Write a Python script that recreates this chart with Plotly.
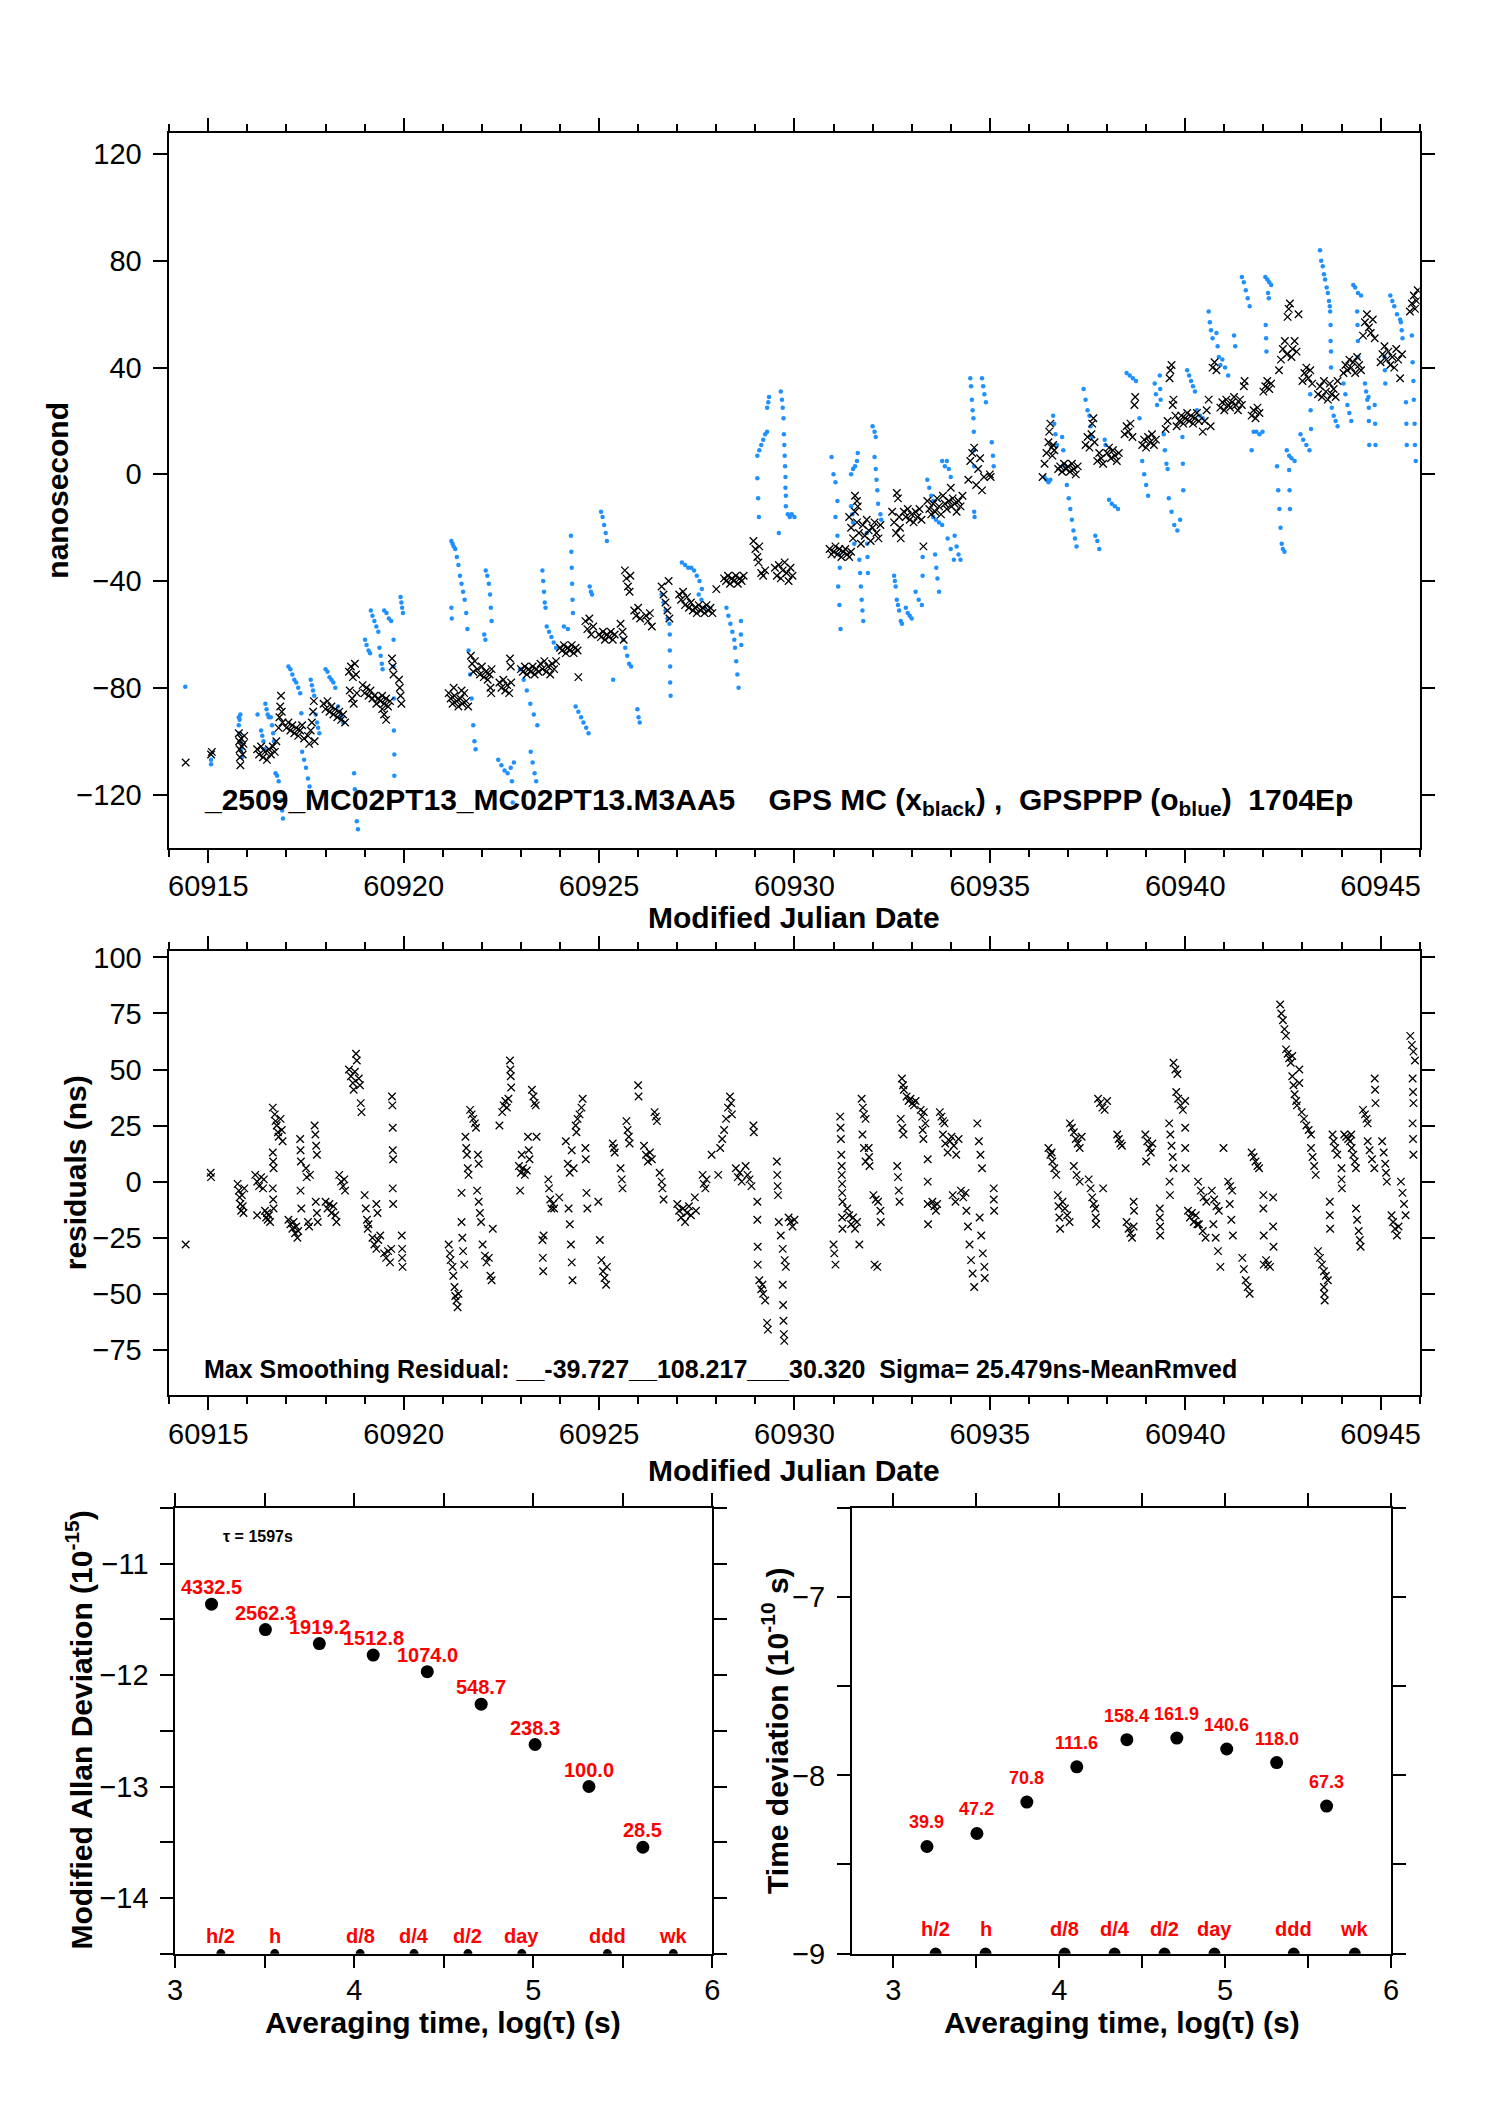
import plotly.graph_objects as go

W, H = 1488, 2105
FONT = "Liberation Sans, Arial, Helvetica, sans-serif"

# ---------------- DATA ----------------
# GPS MC (black x), top panel: (MJD, ns)
gps_mc_points = [
(60914.42,-108),
(60915.07,-105),(60915.09,-104),
(60915.78,-97),(60915.79,-100),(60915.80,-103),(60915.81,-106),(60915.82,-109),(60915.84,-99),(60915.86,-102),(60915.88,-105),(60915.90,-101),(60915.92,-98),
(60916.25,-103),(60916.30,-105),(60916.35,-102),(60916.40,-106),(60916.45,-104),(60916.50,-107),(60916.55,-103),(60916.60,-105),(60916.65,-102),(60916.70,-104),(60916.74,-100),
(60916.80,-95),(60916.82,-91),(60916.84,-87),(60916.86,-83),(60916.88,-89),(60916.90,-93),
(60917.00,-95),(60917.05,-93),(60917.10,-96),(60917.15,-94),(60917.20,-97),(60917.25,-95),(60917.30,-98),(60917.35,-96),(60917.40,-94),(60917.45,-99),
(60917.55,-98),(60917.58,-101),(60917.62,-96),(60917.65,-93),(60917.68,-89),(60917.70,-85),(60917.72,-100),
(60917.95,-86),(60918.00,-88),(60918.05,-85),(60918.10,-89),(60918.15,-87),(60918.20,-90),
(60918.25,-88),(60918.30,-91),(60918.35,-89),(60918.40,-92),(60918.45,-90),(60918.50,-93),
(60918.60,-74),(60918.65,-72),(60918.70,-76),(60918.75,-71),(60918.78,-75),(60918.62,-81),(60918.68,-84),(60918.72,-86),(60918.80,-82),
(60918.95,-79),(60919.00,-82),(60919.05,-80),(60919.10,-83),(60919.15,-81),
(60919.20,-84),(60919.25,-83),(60919.30,-86),(60919.35,-84),(60919.40,-85),(60919.45,-83),(60919.50,-86),(60919.55,-84),(60919.60,-87),(60919.65,-85),
(60919.45,-88),(60919.50,-90),(60919.55,-92),
(60919.70,-69),(60919.72,-72),(60919.74,-75),
(60919.88,-77),(60919.90,-80),(60919.92,-83),(60919.94,-86),
(60921.15,-82),(60921.20,-84),(60921.25,-86),(60921.30,-83),(60921.35,-85),(60921.40,-87),(60921.45,-84),(60921.50,-86),(60921.55,-82),(60921.60,-85),(60921.65,-87),(60921.28,-80),(60921.48,-81),
(60921.72,-68),(60921.75,-71),(60921.78,-74),(60921.82,-70),
(60921.88,-73),(60921.95,-75),(60922.00,-72),(60922.05,-76),(60922.10,-74),(60922.15,-77),(60922.20,-75),(60922.25,-73),
(60922.22,-80),(60922.24,-82),
(60922.45,-78),(60922.50,-80),(60922.55,-77),(60922.60,-81),(60922.65,-79),(60922.70,-82),(60922.75,-78),(60922.72,-69),(60922.74,-72),
(60923.00,-73),(60923.05,-74),(60923.10,-72),(60923.15,-75),(60923.20,-73),(60923.25,-74),(60923.30,-72),(60923.35,-75),(60923.40,-73),(60923.45,-74),
(60923.50,-71),(60923.55,-73),(60923.60,-70),(60923.65,-74),(60923.70,-72),(60923.75,-75),(60923.80,-71),(60923.85,-73),(60923.90,-70),
(60924.00,-65),(60924.05,-66),(60924.10,-64),(60924.15,-67),(60924.20,-65),(60924.25,-66),(60924.30,-64),(60924.35,-67),(60924.40,-65),(60924.45,-66),
(60924.47,-76),
(60924.65,-55),(60924.70,-58),(60924.75,-54),(60924.80,-60),(60924.85,-57),
(60925.00,-60),(60925.05,-61),(60925.10,-59),(60925.15,-62),(60925.20,-60),(60925.25,-61),(60925.30,-59),(60925.35,-62),(60925.40,-60),
(60925.55,-56),(60925.60,-59),(60925.63,-62),
(60925.66,-36),(60925.70,-39),(60925.74,-42),(60925.78,-44),(60925.80,-38),
(60925.90,-51),(60925.95,-53),(60926.00,-50),(60926.05,-54),
(60926.20,-53),(60926.25,-55),(60926.30,-52),(60926.35,-57),
(60926.60,-42),(60926.65,-45),(60926.70,-48),(60926.75,-51),(60926.78,-40),(60926.80,-54),
(60927.05,-45),(60927.10,-47),(60927.15,-44),(60927.20,-49),(60927.25,-46),(60927.30,-50),(60927.35,-48),(60927.40,-51),
(60927.45,-50),(60927.50,-52),(60927.55,-49),(60927.60,-51),(60927.65,-50),(60927.70,-52),(60927.75,-49),(60927.80,-51),(60927.85,-50),(60927.90,-52),
(60928.00,-43),
(60928.20,-39),(60928.25,-40),(60928.30,-38),(60928.35,-41),(60928.40,-39),(60928.45,-40),(60928.50,-38),(60928.55,-41),(60928.60,-39),(60928.65,-40),(60928.70,-38),
(60928.95,-25),(60929.00,-28),(60929.05,-31),(60929.08,-33),(60929.10,-27),
(60929.15,-37),(60929.20,-38),(60929.25,-36),
(60929.50,-35),(60929.55,-38),(60929.60,-34),(60929.65,-39),(60929.70,-36),(60929.75,-33),(60929.80,-37),(60929.85,-40),(60929.90,-35),(60929.95,-38),
(60930.90,-28),(60930.95,-30),(60931.00,-29),(60931.05,-27),(60931.10,-30),(60931.15,-28),(60931.20,-31),(60931.25,-29),(60931.30,-28),(60931.35,-30),(60931.40,-31),(60931.45,-29),
(60931.55,-8),(60931.60,-10),(60931.62,-12),
(60931.40,-16),(60931.45,-20),(60931.50,-24),(60931.55,-14),(60931.60,-18),(60931.65,-22),(60931.70,-26),(60931.75,-19),(60931.80,-23),(60931.85,-17),(60931.90,-21),(60931.95,-25),(60932.00,-20),(60932.05,-18),(60932.10,-22),(60932.15,-24),(60932.20,-19),
(60932.50,-14),(60932.55,-18),(60932.60,-22),(60932.62,-7),(60932.65,-9),(60932.68,-16),(60932.70,-20),(60932.72,-24),
(60932.80,-14),(60932.85,-16),(60932.90,-13),(60932.95,-17),(60933.00,-15),(60933.05,-18),(60933.10,-14),(60933.15,-16),(60933.20,-13),(60933.25,-17),(60933.30,-27),
(60933.40,-10),(60933.45,-13),(60933.50,-15),(60933.55,-11),(60933.60,-14),(60933.65,-9),(60933.70,-12),(60933.75,-15),
(60933.80,-8),(60933.85,-11),(60933.90,-13),(60933.95,-10),(60934.00,-5),(60934.02,-12),(60934.05,-9),(60934.10,-11),(60934.15,-14),(60934.20,-10),(60934.25,-12),(60934.30,-8),
(60934.45,-2),(60934.50,5),(60934.55,8),(60934.60,10),(60934.65,-4),(60934.70,2),(60934.75,6),(60934.80,-6),(60934.85,-1),
(60935.00,0),(60935.02,-1),
(60936.35,-1),(60936.40,4),(60936.45,8),(60936.50,12),(60936.52,16),(60936.55,19),(60936.58,10),(60936.60,7),(60936.62,11),(60936.65,9),
(60936.75,2),(60936.80,3),(60936.85,1),(60936.90,4),(60936.95,2),(60937.00,3),(60937.05,1),(60937.10,4),(60937.15,2),(60937.20,0),(60937.25,3),
(60937.45,11),(60937.50,14),(60937.55,10),(60937.60,15),(60937.62,19),(60937.65,21),(60937.68,12),
(60937.75,5),(60937.80,8),(60937.85,6),(60937.90,4),
(60938.00,8),(60938.05,10),(60938.10,6),(60938.15,9),(60938.20,7),(60938.25,5),(60938.30,8),
(60938.45,15),(60938.50,18),(60938.55,16),(60938.60,19),(60938.65,14),(60938.70,26),(60938.72,29),
(60938.90,11),(60938.95,13),(60939.00,10),(60939.05,14),(60939.10,12),(60939.15,15),(60939.20,11),(60939.25,13),
(60939.50,17),(60939.55,20),(60939.60,36),(60939.62,39),(60939.65,41),(60939.68,26),(60939.70,28),(60939.75,22),(60939.78,18),
(60939.85,20),(60939.90,22),(60939.95,19),(60940.00,21),(60940.05,23),(60940.10,20),(60940.15,22),(60940.20,19),(60940.25,21),(60940.30,23),(60940.35,20),
(60940.45,16),(60940.50,20),(60940.55,24),(60940.60,28),(60940.65,18),(60940.70,40),(60940.75,42),(60940.80,39),
(60940.90,25),(60940.95,27),(60941.00,24),(60941.05,28),(60941.10,26),(60941.15,25),(60941.20,27),(60941.25,29),(60941.30,26),(60941.35,24),(60941.40,28),(60941.45,26),(60941.50,33),(60941.52,35),
(60941.70,22),(60941.75,24),(60941.80,21),(60941.85,25),(60941.90,23),
(60942.00,31),(60942.05,33),(60942.10,35),(60942.15,32),(60942.20,34),
(60942.40,39),(60942.45,43),(60942.50,47),(60942.55,50),(60942.60,45),(60942.62,59),(60942.65,62),(60942.68,64),
(60942.72,44),(60942.75,47),(60942.80,50),(60942.85,46),(60942.90,60),
(60943.00,35),(60943.05,38),(60943.10,40),(60943.15,36),(60943.20,39),(60943.25,34),
(60943.40,30),(60943.45,33),(60943.50,29),(60943.55,35),(60943.60,31),(60943.65,28),(60943.70,34),(60943.75,30),(60943.80,32),(60943.85,29),(60943.90,35),
(60944.05,38),(60944.10,41),(60944.15,39),(60944.20,43),(60944.25,40),(60944.30,42),(60944.35,38),(60944.40,44),(60944.45,41),(60944.50,39),
(60944.55,52),(60944.60,57),(60944.65,60),(60944.70,55),(60944.75,53),(60944.80,58),(60944.85,51),
(60945.00,42),(60945.05,45),(60945.10,48),(60945.15,43),(60945.20,46),(60945.25,41),(60945.30,44),(60945.35,40),(60945.40,47),(60945.45,43),(60945.50,36),(60945.55,45),
(60945.75,61),(60945.80,64),(60945.85,67),(60945.88,62),(60945.92,65),(60945.95,69),
]

# GPSPPP (blue o), top panel: (MJD, ns)
gpsppp_points = [
(60914.41,-79.6),
(60915.07,-107),(60915.07,-108.6),
(60915.78,-91),(60915.80,-92),(60915.82,-90),(60915.78,-94),(60915.80,-97),(60915.82,-100),(60915.84,-103),(60915.86,-106),
(60916.26,-90),
(60916.35,-96),(60916.38,-98),(60916.41,-100),(60916.44,-103),
(60916.46,-86),(60916.49,-88),(60916.52,-90),(60916.55,-91),
(60916.60,-91),(60916.63,-94),(60916.66,-97),(60916.68,-100),
(60916.72,-112),(60916.76,-113),(60916.80,-115),
(60916.85,-119),(60916.87,-122),(60916.89,-126),(60916.91,-129),
(60917.05,-72),(60917.10,-73),(60917.15,-75),(60917.20,-77),(60917.25,-78),(60917.30,-80),(60917.35,-82),
(60917.38,-89.5),
(60917.40,-104),(60917.45,-107),(60917.50,-110),(60917.55,-114),(60917.59,-117),
(60917.62,-77),(60917.65,-79),(60917.68,-81),(60917.71,-83),
(60917.75,-90),(60917.78,-93),(60917.81,-95),(60917.84,-97),
(60918.00,-73),(60918.05,-74),(60918.10,-76),(60918.15,-77),(60918.20,-78),(60918.25,-80),
(60918.32,-87),(60918.36,-89),(60918.40,-91),(60918.45,-93),
(60918.73,-112),(60918.75,-118),(60918.78,-124),(60918.80,-130),(60918.83,-133),
(60919.01,-62),(60919.05,-64),(60919.10,-66),(60919.14,-67),
(60919.16,-51),(60919.20,-53),(60919.25,-55),(60919.30,-57),(60919.35,-59),
(60919.38,-65),(60919.41,-68),(60919.44,-71),(60919.46,-73),
(60919.50,-51),(60919.56,-52),(60919.62,-54),(60919.68,-55),
(60919.74,-62),(60919.74,-72),(60919.75,-84),(60919.75,-96),(60919.76,-105),(60919.76,-113),
(60919.92,-46),(60919.94,-48),(60919.96,-50),(60919.98,-52),
(60921.22,-25),(60921.25,-26),(60921.28,-27),(60921.32,-28),
(60921.36,-31),(60921.40,-34),(60921.44,-38),(60921.48,-41),(60921.52,-44),(60921.56,-47),
(60921.60,-52),(60921.63,-58),(60921.66,-66),(60921.70,-75),(60921.74,-84),(60921.78,-94),(60921.81,-100),(60921.84,-103),
(60921.22,-50),(60921.23,-54),
(60922.10,-36),(60922.14,-38),(60922.18,-41),(60922.21,-45),(60922.23,-50),(60922.25,-55),
(60922.06,-60),(60922.09,-62),
(60922.42,-107),(60922.50,-109),(60922.58,-111),(60922.66,-112),(60922.74,-110),(60922.82,-108),
(60922.77,-115),(60922.78,-119),(60922.79,-123),
(60922.98,-73),(60923.07,-77),(60923.15,-81),(60923.24,-86),(60923.33,-90),(60923.42,-94),
(60923.25,-104),(60923.30,-108),(60923.35,-112),(60923.39,-115),
(60923.55,-36),(60923.57,-40),(60923.59,-44),(60923.61,-48),(60923.63,-50),
(60923.66,-57),(60923.72,-59),(60923.78,-61),(60923.84,-63),(60923.90,-65),
(60924.10,-57),(60924.20,-58),
(60924.28,-23),(60924.29,-29),(60924.30,-35),(60924.31,-41),(60924.32,-47),(60924.33,-52),
(60924.40,-87),(60924.47,-89),(60924.54,-91),(60924.60,-93),(60924.67,-95),(60924.73,-97),
(60924.76,-42),(60924.79,-44),(60924.82,-45),
(60925.05,-14),(60925.09,-16),(60925.13,-19),(60925.17,-22),(60925.20,-25),
(60925.36,-77),
(60925.62,-62),(60925.67,-65),(60925.72,-68),(60925.77,-71),(60925.82,-72),
(60925.98,-88),(60926.01,-91),(60926.04,-93),
(60926.60,-45),(60926.65,-48),(60926.70,-51),(60926.75,-54),(60926.80,-56),
(60926.81,-60),(60926.81,-66),(60926.82,-72),(60926.82,-78),(60926.83,-83),
(60927.12,-33),(60927.20,-34),(60927.28,-35),(60927.36,-35),
(60927.43,-36),(60927.50,-38),(60927.57,-40),(60927.63,-43),
(60927.55,-45),(60927.62,-47),(60927.70,-50),
(60928.26,-50),(60928.31,-53),(60928.36,-56),(60928.41,-59),(60928.46,-62),
(60928.48,-65),(60928.51,-70),(60928.54,-75),(60928.57,-80),
(60928.63,-55),(60928.63,-60),(60928.64,-64),
(60929.05,-1.5),(60929.07,-9),(60929.09,-16),
(60929.05,7),(60929.10,9),(60929.15,11),(60929.20,13),(60929.25,15),(60929.30,16),
(60929.30,25),(60929.33,27),(60929.35,29),
(60929.60,-22),
(60929.65,31),(60929.68,28),(60929.70,25),(60929.72,21),
(60929.73,15),(60929.74,11),(60929.75,7),(60929.76,3),
(60929.77,-1),(60929.77,-5),(60929.78,-8),(60929.78,-12),
(60929.83,-15),(60929.88,-16),(60929.93,-15),(60930.00,-16),
(60930.95,6.5),(60931.00,0),(60931.05,-3),(60931.10,-10),
(60931.05,-16),(60931.10,-23),(60931.13,-30),(60931.16,-35),(60931.12,-42),(60931.15,-49),(60931.18,-58),
(60931.45,0),(60931.50,2),(60931.55,3),(60931.60,5),(60931.62,8),
(60931.45,-12),(60931.48,-15),(60931.50,-18),(60931.53,-26),
(60931.66,-32),(60931.68,-37),(60931.70,-42),(60931.72,-47),(60931.74,-51),(60931.76,-55),
(60931.85,-22),(60931.86,-26),(60931.87,-31),(60931.88,-37),
(60932.00,18),(60932.05,16),(60932.08,14),(60932.05,6.5),(60932.08,2),(60932.10,-2),(60932.12,-6),(60932.14,-11),(60932.20,-15),(60932.22,-17),
(60932.55,-38),(60932.57,-40),(60932.59,-42),
(60932.62,-47),(60932.65,-49),(60932.68,-51),(60932.72,-55),(60932.75,-56),
(60932.85,-50),(60932.90,-52),(60932.95,-53),(60933.00,-54),
(60933.10,-44),(60933.18,-47),(60933.26,-49),(60933.28,-31),(60933.28,-38),
(60933.40,-2),(60933.45,-5),(60933.50,-8),(60933.55,-10),
(60933.55,-16),(60933.62,-17),(60933.70,-18),(60933.78,-19),
(60933.60,-30),(60933.63,-35),(60933.66,-39),(60933.70,-44),
(60933.78,5),(60933.85,3),
(60933.90,5),(60933.95,2),(60934.00,-1),
(60933.92,-24),(60934.00,-28),(60934.08,-32),
(60934.10,-23),(60934.15,-27),(60934.20,-30),(60934.25,-32),
(60934.50,36),(60934.52,33),(60934.54,28),(60934.56,24),(60934.58,21),(60934.59,16),(60934.60,9),(60934.60,3),
(60934.60,-14),(60934.61,-16),
(60934.80,36),(60934.83,33),(60934.86,30),(60934.90,27),
(60935.05,12),(60935.08,7),(60935.10,3),
(60936.40,-1),(60936.45,-2),(60936.50,-3),(60936.55,-2),
(60936.62,22),(60936.65,19),(60936.68,15),(60936.72,11),
(60936.85,14),(60936.88,9),(60936.92,3),
(60936.97,-4),(60937.02,-9),(60937.06,-13),(60937.10,-17),(60937.14,-21),(60937.18,-24),(60937.22,-27),
(60937.40,32),(60937.45,28),(60937.50,24),(60937.55,22),(60937.58,18),(60937.62,14),
(60937.70,-23),(60937.75,-25),(60937.80,-28),
(60937.94,13),(60937.96,11),
(60938.05,-9.5),(60938.12,-11),(60938.20,-12),(60938.28,-13),
(60938.50,38),(60938.58,37),(60938.66,36),(60938.74,35),
(60938.83,21),
(60938.90,5),(60938.95,0),(60939.00,-4),(60939.05,-8),
(60939.22,34),(60939.25,30),(60939.28,26),
(60939.35,37),(60939.36,32),(60939.37,28),
(60939.45,15),(60939.48,9),(60939.52,4),(60939.55,2),
(60939.58,-9),(60939.65,-14),(60939.72,-19),(60939.80,-21),(60939.87,-17),
(60939.93,14),(60939.94,4),(60939.95,-6),
(60940.05,39),(60940.10,37),(60940.15,35),(60940.20,33),(60940.25,31),
(60940.30,24),(60940.38,22),(60940.45,21),
(60940.60,61),(60940.63,57),(60940.66,54),(60940.70,51),
(60940.80,53),(60940.83,48),(60940.86,44),(60940.90,41),
(60940.95,43),(60941.02,40),(60941.10,37),
(60941.25,52),(60941.28,48),
(60941.45,74),(60941.50,72),(60941.55,69),(60941.60,66),(60941.65,63),
(60941.70,9),(60941.75,16),(60941.82,16),(60941.90,15),(60941.98,16),
(60942.05,74),(60942.10,73),(60942.15,72),(60942.20,71),(60942.12,68),(60942.14,66),
(60942.06,56),(60942.07,51),(60942.08,46),
(60942.35,3),(60942.38,-6),(60942.41,-13),(60942.44,-20),(60942.47,-26),(60942.50,-28),(60942.54,-29),
(60942.60,9),(60942.66,7),(60942.72,6),(60942.80,5),
(60942.66,1.6),(60942.67,-6),(60942.68,-13),
(60942.95,15),(60943.02,13),(60943.10,11),(60943.18,9),
(60943.20,30),(60943.21,24),(60943.22,17),
(60943.45,84),(60943.48,80),(60943.52,78),(60943.55,75),(60943.58,73),(60943.62,70),(60943.65,68),(60943.68,65),(60943.70,63),
(60943.71,61),(60943.72,56),(60943.72,50),(60943.73,46),(60943.73,40),
(60943.75,25),(60943.80,22),(60943.85,20),(60943.90,18),
(60944.05,34),(60944.10,30),(60944.15,26),(60944.20,23),(60944.25,20),
(60944.30,71),(60944.35,70),(60944.42,68),(60944.50,67),
(60944.40,61),(60944.41,56),(60944.42,50),(60944.43,44),
(60944.60,34),(60944.63,31),(60944.66,28),(60944.70,25),
(60944.69,29),(60944.70,20),(60944.71,11),
(60944.85,26),(60944.86,19),(60944.87,11),
(60945.10,44),(60945.11,39),(60945.12,34),
(60945.25,67),(60945.30,65),(60945.35,63),(60945.42,60),(60945.50,58),
(60945.52,57),(60945.54,54),(60945.56,51),
(60945.65,27),(60945.66,19),(60945.67,11),
(60945.80,52),(60945.82,42),(60945.84,35),(60945.85,28),(60945.87,19),(60945.88,11),(60945.90,5),
]

# Smoothing residuals (black x), middle panel: (MJD, ns)
residual_points = [
(60914.42,-28),
(60915.06,4),(60915.07,2),
(60915.75,-1),(60915.78,-4),(60915.80,-7),(60915.82,-10),(60915.84,-13),(60915.86,-6),(60915.88,-11),(60915.90,-14),(60915.92,-3),
(60916.20,3),(60916.25,0),(60916.30,-2),(60916.35,2),(60916.40,-3),(60916.42,1),(60916.25,-15),
(60916.45,-13),(60916.48,-16),(60916.50,-14),(60916.52,-17),(60916.55,-15),(60916.58,-18),
(60916.65,33),(60916.70,30),(60916.72,27),(60916.75,25),(60916.78,22),(60916.80,20),(60916.85,28),(60916.88,23),(60916.90,18),
(60916.65,13),(60916.66,9),(60916.67,6),(60916.65,-3),(60916.66,-8),(60916.67,-12),
(60917.05,-17),(60917.10,-19),(60917.15,-21),(60917.18,-18),(60917.22,-23),(60917.25,-20),(60917.28,-25),(60917.30,-22),
(60917.35,19),(60917.36,14),(60917.37,9),(60917.36,-4),(60917.38,-12),
(60917.50,6),(60917.52,2),(60917.55,-18),(60917.58,-20),(60917.60,3),
(60917.72,25),(60917.74,21),(60917.76,16),(60917.78,12),(60917.75,-9),(60917.78,-14),(60917.80,-18),
(60918.00,-9),(60918.05,-12),(60918.10,-10),(60918.15,-14),(60918.20,-11),(60918.25,-15),(60918.28,-18),
(60918.35,3),(60918.40,0),(60918.45,-2),(60918.48,1),(60918.50,-4),
(60918.60,50),(60918.65,47),(60918.70,44),(60918.72,41),(60918.75,49),(60918.78,57),(60918.80,54),(60918.85,46),(60918.88,43),
(60918.90,35),(60918.92,31),
(60919.00,-6),(60919.03,-12),(60919.06,-17),(60919.08,-21),(60919.10,-19),
(60919.20,-25),(60919.25,-28),(60919.30,-30),(60919.35,-26),(60919.40,-24),(60919.30,-10),(60919.33,-14),
(60919.50,-32),(60919.55,-34),(60919.60,-31),(60919.65,-36),(60919.68,-30),
(60919.70,38),(60919.71,34),(60919.72,24),(60919.72,14),(60919.73,10),(60919.72,-3),(60919.73,-10),
(60919.95,-24),(60919.96,-30),(60919.96,-34),(60919.97,-38),
(60921.15,-28),(60921.18,-32),(60921.20,-35),(60921.25,-38),
(60921.27,-42),(60921.30,-47),(60921.32,-51),(60921.35,-53),(60921.38,-56),(60921.40,-50),
(60921.48,-18),(60921.50,-25),(60921.52,-31),(60921.55,-37),(60921.48,-5),
(60921.58,20),(60921.60,15),(60921.62,12),(60921.64,6),(60921.66,3),
(60921.70,32),(60921.74,30),(60921.78,28),(60921.82,26),(60921.85,24),
(60921.90,12),(60921.92,8),(60921.88,-4),(60921.92,-9),(60921.95,-14),(60921.98,-18),
(60922.02,-28),(60922.08,-33),(60922.12,-36),(60922.18,-34),(60922.22,-42),(60922.25,-44),(60922.28,-21),
(60922.45,25),
(60922.52,31),(60922.56,34),(60922.60,36),(60922.64,33),(60922.68,37),(60922.72,54),(60922.73,50),(60922.74,47),(60922.75,42),
(60922.95,7),(60923.00,4),(60923.05,6),(60923.10,3),(60923.15,5),(60923.02,12),(60922.98,-4),
(60923.18,20),(60923.20,14),(60923.22,10),
(60923.28,41),(60923.32,38),(60923.35,35),(60923.38,34),(60923.40,20),
(60923.55,-26),(60923.56,-34),(60923.57,-40),(60923.58,-24),
(60923.70,1),(60923.72,-3),(60923.75,-8),(60923.78,-12),(60923.82,-10),(60923.85,-12),
(60923.98,-7),
(60924.15,18),(60924.20,8),(60924.25,4),(60924.30,14),(60924.35,6),
(60924.22,-12),(60924.25,-19),(60924.28,-28),(60924.30,-36),(60924.32,-44),
(60924.40,25),(60924.45,28),(60924.50,30),(60924.55,33),(60924.58,37),(60924.42,22),
(60924.65,15),(60924.66,10),(60924.68,-5),(60924.70,-12),
(60924.98,-9),(60925.02,-26),(60925.06,-35),(60925.10,-40),(60925.14,-43),(60925.18,-46),(60925.20,-38),
(60925.35,17),(60925.38,15),(60925.40,13),
(60925.55,6),(60925.58,1),(60925.60,-3),
(60925.70,27),(60925.73,23),(60925.76,20),(60925.78,17),
(60926.00,43),(60926.01,38),
(60926.15,16),(60926.20,12),(60926.25,9),(60926.30,13),(60926.35,10),
(60926.42,31),(60926.45,29),(60926.48,27),
(60926.55,4),(60926.60,0),(60926.62,-3),(60926.65,-8),
(60927.00,-10),(60927.05,-13),(60927.10,-16),(60927.15,-12),(60927.20,-18),(60927.25,-14),(60927.30,-11),(60927.35,-15),
(60927.45,-7),(60927.48,-13),
(60927.65,3),(60927.68,-1),(60927.72,-3),(60927.75,1),
(60927.88,12),(60928.05,3),
(60928.10,15),(60928.15,19),(60928.20,23),(60928.25,28),(60928.30,33),(60928.35,38),(60928.38,35),(60928.40,30),
(60928.50,6),(60928.55,2),(60928.60,4),(60928.65,0),
(60928.75,7),(60928.80,3),(60928.85,1),(60928.90,-2),
(60928.95,25),(60928.96,22),
(60929.05,-9),(60929.05,-17),(60929.06,-29),(60929.06,-37),
(60929.10,-44),(60929.15,-48),(60929.20,-50),(60929.25,-53),(60929.18,-46),
(60929.30,-63),(60929.32,-66),
(60929.55,9),(60929.56,3),(60929.57,-2),(60929.58,-6),
(60929.60,-18),(60929.65,-24),(60929.70,-30),(60929.75,-35),(60929.78,-38),
(60929.70,-46),(60929.71,-55),(60929.72,-62),(60929.73,-68),(60929.74,-71),
(60929.85,-16),(60929.90,-18),(60929.95,-20),(60930.00,-17),
(60931.00,-28),(60931.02,-32),(60931.05,-37),
(60931.17,29),(60931.18,24),(60931.19,19),(60931.20,12),(60931.21,7),(60931.21,3),(60931.22,-1),(60931.22,-5),(60931.23,-9),(60931.22,-16),(60931.23,-21),
(60931.35,-12),(60931.40,-15),(60931.45,-19),(60931.50,-16),(60931.55,-21),(60931.60,-18),
(60931.66,-28),
(60931.72,37),(60931.75,33),(60931.78,30),(60931.82,28),(60931.74,21),(60931.78,15),(60931.82,9),
(60931.90,15),(60931.91,11),(60931.92,7),
(60932.02,-6),(60932.08,-8),(60932.14,-9),(60932.05,-37),(60932.12,-38),
(60932.20,-13),(60932.21,-18),
(60932.63,7),(60932.65,2),(60932.67,-4),(60932.69,-9),
(60932.75,46),(60932.78,43),(60932.80,41),
(60932.72,28),(60932.76,24),(60932.79,21),
(60932.87,38),(60932.92,36),(60932.97,37),(60933.02,35),(60933.06,34),(60933.10,36),
(60933.23,32),(60933.27,29),(60933.31,31),(60933.35,26),(60933.28,23),(60933.30,19),
(60933.41,10),(60933.41,0),(60933.41,-10),(60933.42,-19),
(60933.53,-9),(60933.58,-11),(60933.62,-13),(60933.65,-10),
(60933.72,31),(60933.76,29),(60933.80,27),(60933.84,26),
(60933.80,21),(60933.86,17),(60933.92,13),(60933.98,18),
(60934.02,20),(60934.08,16),(60934.14,12),(60934.20,19),(60934.05,-6),(60934.12,-9),
(60934.26,-4),(60934.32,-7),(60934.38,-5),
(60934.40,-13),(60934.44,-20),(60934.48,-28),(60934.52,-35),(60934.56,-41),(60934.60,-47),
(60934.68,26),(60934.72,18),(60934.76,12),(60934.80,6),
(60934.74,-16),(60934.78,-24),(60934.82,-32),(60934.86,-38),(60934.87,-43),
(60935.10,-3),(60935.10,-8),(60935.11,-13),
(60936.50,15),(60936.55,12),(60936.60,9),(60936.65,6),(60936.70,3),(60936.58,13),
(60936.74,-6),(60936.76,-11),(60936.78,-16),(60936.80,-21),
(60936.86,-9),(60936.92,-12),(60936.98,-15),(60937.04,-18),
(60937.05,26),(60937.10,24),(60937.15,22),(60937.20,19),(60937.25,17),(60937.30,15),(60937.35,20),
(60937.15,7),(60937.22,3),(60937.30,0),
(60937.53,1),(60937.58,-3),(60937.62,-7),(60937.66,-10),(60937.70,-12),
(60937.71,-16),(60937.72,-19),
(60937.90,-3),
(60937.77,37),(60937.82,35),(60937.88,33),(60937.94,32),(60938.00,36),
(60938.26,21),(60938.30,19),(60938.34,17),(60938.38,16),
(60938.50,-18),(60938.55,-21),(60938.60,-23),(60938.64,-25),(60938.68,-20),
(60938.68,-9),(60938.69,-13),
(60938.98,21),(60939.03,18),(60939.08,15),(60939.12,13),(60939.16,17),(60939.00,9),
(60939.35,-12),(60939.35,-16),(60939.36,-20),(60939.36,-24),
(60939.59,26),(60939.62,21),(60939.65,16),(60939.68,11),(60939.70,6),(60939.60,0),(60939.61,-6),
(60939.70,53),(60939.75,50),(60939.80,48),
(60939.77,40),(60939.82,37),(60939.88,34),(60939.94,32),(60940.00,36),
(60940.00,24),(60940.00,15),(60940.01,6),
(60940.07,-13),(60940.12,-16),(60940.17,-14),(60940.22,-18),(60940.27,-15),(60940.31,-19),
(60940.33,0),(60940.40,-4),(60940.47,-7),(60940.54,-9),
(60940.35,-19),(60940.45,-22),(60940.52,-25),
(60940.68,-4),(60940.74,-8),(60940.80,-11),(60940.86,-13),
(60940.72,-19),(60940.78,-25),(60940.84,-31),(60940.90,-38),
(60940.98,15),
(60941.10,0),(60941.15,-2),(60941.20,-4),
(60941.14,-10),(60941.18,-17),(60941.22,-24),
(60941.46,-34),(60941.50,-39),(60941.55,-44),(60941.60,-47),(60941.65,-50),
(60941.70,13),(60941.75,11),(60941.80,9),(60941.85,7),(60941.89,6),
(60942.00,-6),(60942.00,-12),(60942.01,-24),(60942.01,-37),
(60942.07,-35),(60942.12,-37),(60942.17,-38),
(60942.25,-7),(60942.25,-20),(60942.26,-29),
(60942.43,79),(60942.46,75),(60942.50,72),(60942.54,68),(60942.58,65),
(60942.58,59),(60942.62,57),(60942.66,55),(60942.70,53),(60942.74,56),
(60942.74,47),(60942.77,43),(60942.80,39),(60942.84,36),(60942.86,34),
(60942.92,50),(60942.92,44),
(60942.98,31),(60943.04,28),(60943.10,25),(60943.16,23),(60943.22,21),
(60943.22,15),(60943.26,11),(60943.30,7),(60943.34,3),
(60943.40,-31),(60943.45,-34),(60943.50,-37),(60943.55,-40),(60943.60,-42),(60943.65,-44),
(60943.55,-47),(60943.56,-50),(60943.57,-53),
(60943.70,-9),(60943.70,-15),(60943.71,-21),
(60943.77,21),(60943.80,18),(60943.84,15),(60943.89,12),
(60944.00,6),(60944.00,1),(60944.01,-3),
(60944.07,21),(60944.12,20),(60944.17,19),(60944.22,18),(60944.25,21),
(60944.26,15),(60944.30,12),(60944.34,9),(60944.37,6),
(60944.37,-12),(60944.40,-17),(60944.44,-22),(60944.47,-26),(60944.49,-29),
(60944.55,32),(60944.60,30),(60944.64,28),(60944.67,26),
(60944.67,18),(60944.72,14),(60944.78,10),(60944.84,6),
(60944.85,46),(60944.86,41),(60944.87,35),
(60945.04,18),(60945.08,13),(60945.12,8),(60945.14,4),(60945.16,0),
(60945.28,-15),(60945.32,-18),(60945.37,-21),(60945.42,-24),(60945.46,-20),
(60945.52,0),(60945.56,-5),(60945.60,-10),(60945.64,-15),
(60945.76,65),(60945.80,61),(60945.84,58),(60945.88,54),
(60945.82,46),(60945.83,40),(60945.84,35),(60945.82,26),(60945.83,19),(60945.84,12),
]

# Modified Allan deviation (labels are MDEV x 1e-15) vs log10(tau)
mdev_log_tau = [3.203, 3.504, 3.805, 4.106, 4.408, 4.709, 5.010, 5.311, 5.612]
mdev_labels = ["4332.5", "2562.3", "1919.2", "1512.8", "1074.0", "548.7", "238.3", "100.0", "28.5"]
mdev_log_val = [-11.363, -11.591, -11.717, -11.820, -11.969, -12.261, -12.623, -13.000, -13.545]

# Time deviation (labels are TDEV x 1e-10 s)
tdev_log_tau = [3.203, 3.504, 3.805, 4.106, 4.408, 4.709, 5.010, 5.311, 5.612]
tdev_labels = ["39.9", "47.2", "70.8", "111.6", "158.4", "161.9", "140.6", "118.0", "67.3"]
tdev_log_val = [-8.399, -8.326, -8.150, -7.952, -7.800, -7.791, -7.852, -7.928, -8.172]

# Reference averaging intervals
interval_names = ["h/2", "h", "d/8", "d/4", "d/2", "day", "ddd", "wk"]
interval_log_tau = [3.255, 3.556, 4.033, 4.334, 4.635, 4.936, 5.414, 5.782]

mjd_ticks = [60915, 60920, 60925, 60930, 60935, 60940, 60945]
# ------------------------------------------------------------

def px(x):
    return x / W

def py(y):
    return 1 - y / H

fig = go.Figure()

xmark = dict(symbol="x-thin", size=7.5, color="black", line=dict(width=1.3, color="black"))

fig.add_trace(go.Scatter(x=[p[0] for p in gpsppp_points], y=[p[1] for p in gpsppp_points],
                         mode="markers", xaxis="x", yaxis="y",
                         marker=dict(symbol="circle", size=4.5, color="#1E90FF", line=dict(width=0))))
fig.add_trace(go.Scatter(x=[p[0] for p in gps_mc_points], y=[p[1] for p in gps_mc_points],
                         mode="markers", xaxis="x", yaxis="y", marker=xmark))
fig.add_trace(go.Scatter(x=[p[0] for p in residual_points], y=[p[1] for p in residual_points],
                         mode="markers", xaxis="x2", yaxis="y2", marker=xmark))

fig.add_trace(go.Scatter(x=mdev_log_tau, y=mdev_log_val, mode="markers", xaxis="x3", yaxis="y3",
                         marker=dict(size=13, color="black")))
fig.add_trace(go.Scatter(x=interval_log_tau, y=[-14.5] * len(interval_log_tau), mode="markers",
                         xaxis="x3", yaxis="y3", marker=dict(size=9, color="black")))
fig.add_trace(go.Scatter(x=tdev_log_tau, y=tdev_log_val, mode="markers", xaxis="x4", yaxis="y4",
                         marker=dict(size=13, color="black")))
fig.add_trace(go.Scatter(x=interval_log_tau, y=[-9] * len(interval_log_tau), mode="markers",
                         xaxis="x4", yaxis="y4", marker=dict(size=12, color="black")))

tickfont = dict(family=FONT, size=29, color="black")
common = dict(showline=True, linecolor="black", linewidth=1.5, ticks="outside", tickcolor="black",
              tickwidth=1.5, mirror="ticks", showgrid=False, zeroline=False, tickfont=tickfont)

mjd_axis = dict(common, range=[60914.0, 60946.0], tickvals=mjd_ticks, tickformat="d", ticklen=13,
                ticklabelstandoff=-1,
                minor=dict(dtick=1, tick0=60915, ticklen=7, ticks="outside", tickcolor="black", tickwidth=1.5))

half_minor = dict(dtick=0.5, ticklen=13, ticks="outside", tickcolor="black", tickwidth=1.5)

fig.update_layout(
    width=W, height=H, margin=dict(l=0, r=0, t=0, b=0),
    paper_bgcolor="white", plot_bgcolor="white", showlegend=False,
    xaxis=dict(mjd_axis, domain=[px(163), px(1427)], anchor="y"),
    yaxis=dict(common, domain=[py(849), py(125)], anchor="x", range=[-140, 128.1],
               tickvals=[-120, -80, -40, 0, 40, 80, 120], ticklen=14, ticklabelstandoff=6),
    xaxis2=dict(mjd_axis, domain=[px(163), px(1427)], anchor="y2"),
    yaxis2=dict(common, domain=[py(1403), py(953)], anchor="x2", range=[-95.3, 103],
                tickvals=[-75, -50, -25, 0, 25, 50, 75, 100], ticklen=14, ticklabelstandoff=6),
    xaxis3=dict(common, domain=[px(169), px(712)], anchor="y3", range=[3, 6],
                tick0=3, dtick=1, ticklen=13, ticklabelstandoff=-3, minor=dict(half_minor, tick0=3)),
    yaxis3=dict(common, domain=[py(1968), py(1517)], anchor="x3", range=[-14.5, -10.5],
                tick0=-14, dtick=1, ticklen=13, ticklabelstandoff=6, minor=dict(half_minor, tick0=-14.5)),
    xaxis4=dict(common, domain=[px(853), px(1398)], anchor="y4", range=[2.75, 6],
                tick0=3, dtick=1, ticklen=13, ticklabelstandoff=-3, minor=dict(half_minor, tick0=3)),
    yaxis4=dict(common, domain=[py(1968), py(1517)], anchor="x4", range=[-9, -6.5],
                tick0=-9, dtick=1, ticklen=13, ticklabelstandoff=6, minor=dict(half_minor, tick0=-9)),
)

ann = []

def paper_text(text, x, y, size=30, angle=0, xanchor="center", color="black", bold=True):
    t = f"<b>{text}</b>" if bold else text
    ann.append(dict(text=t, x=px(x), y=py(y), xref="paper", yref="paper", showarrow=False,
                    textangle=angle, xanchor=xanchor, yanchor="middle",
                    font=dict(family=FONT, size=size, color=color)))

paper_text("nanosecond", 50, 487, angle=-90)
paper_text("Modified Julian Date", 795, 919)
paper_text("residuals (ns)", 68, 1178, angle=-90)
paper_text("Modified Julian Date", 795, 1479)
paper_text("_2509_MC02PT13_MC02PT13.M3AA5&nbsp;&nbsp;&nbsp;&nbsp;GPS MC (x<sub>black</sub>) ,&nbsp;&nbsp;GPSPPP (o<sub>blue</sub>)&nbsp;&nbsp;1704Ep",
           196, 802, size=30, xanchor="left")
paper_text("Max Smoothing Residual: __-39.727__108.217___30.320&nbsp;&nbsp;Sigma= 25.479ns-MeanRmved",
           196, 1376, size=25, xanchor="left")
paper_text("Modified Allan Deviation (10<sup>-15</sup>)", 72, 1742, angle=-90)
paper_text("Time deviation (10<sup>-10</sup> s)", 776, 1742, angle=-90)
paper_text("Averaging time, log(\u03c4) (s)", 440, 2038)
paper_text("Averaging time, log(\u03c4) (s)", 1126, 2038)
paper_text("\u03c4 = 1597s", 253, 1546, size=16)

for xv, yv, lab in zip(mdev_log_tau, mdev_log_val, mdev_labels):
    ann.append(dict(text=f"<b>{lab}</b>", x=xv, y=yv, xref="x3", yref="y3", showarrow=False,
                    yanchor="middle", yshift=17, font=dict(family=FONT, size=20, color="#FF0000")))
for xv, yv, lab in zip(tdev_log_tau, tdev_log_val, tdev_labels):
    ann.append(dict(text=f"<b>{lab}</b>", x=xv, y=yv, xref="x4", yref="y4", showarrow=False,
                    yanchor="middle", yshift=24, font=dict(family=FONT, size=18, color="#FF0000")))
for xv, lab in zip(interval_log_tau, interval_names):
    ann.append(dict(text=f"<b>{lab}</b>", x=xv, y=-14.5, xref="x3", yref="y3", showarrow=False,
                    yanchor="middle", yshift=18, font=dict(family=FONT, size=20, color="#FF0000")))
    ann.append(dict(text=f"<b>{lab}</b>", x=xv, y=-9, xref="x4", yref="y4", showarrow=False,
                    yanchor="middle", yshift=25, font=dict(family=FONT, size=20, color="#FF0000")))

fig.update_layout(annotations=ann)
fig.write_html("out.html", config={"displayModeBar": False},
               post_script="document.body.style.margin='0';")
